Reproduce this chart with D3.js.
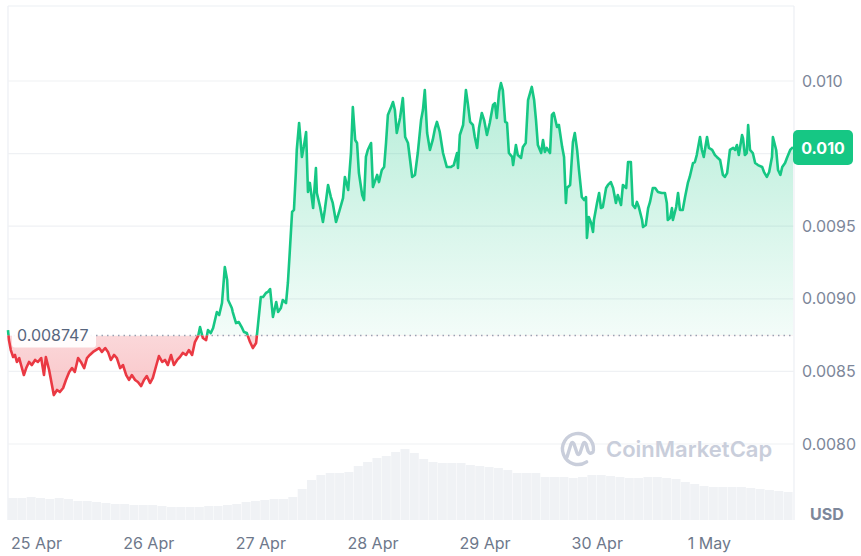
<!DOCTYPE html>
<html><head><meta charset="utf-8">
<script src="https://cdn.jsdelivr.net/npm/d3@7"></script>
<style>
body{margin:0;background:#fff;}
svg{display:block;font-family:Inter,"Noto Sans",sans-serif;}
</style>
</head><body>
<svg id="chart" width="861" height="556"></svg>
<script>
// ---------- data ----------
const startTime = new Date(2024, 3, 24, 18, 0); // 24 Apr 18:00
const hoursFromStart = [
0.0,0.2,0.6,1.1,1.5,1.9,2.4,2.8,3.4,3.9,4.5,5.1,5.8,6.4,7.1,7.7,8.1,8.8,9.4,9.8,
10.5,11.1,11.8,12.4,13.1,13.7,14.3,15.0,15.6,16.3,16.9,17.5,18.2,18.8,19.5,20.1,20.8,21.4,22.0,22.7,
23.3,24.0,24.6,25.3,25.9,26.5,27.2,27.8,28.5,29.1,29.7,30.4,31.0,31.7,32.3,33.0,33.6,34.2,34.9,35.5,
36.2,36.8,37.4,38.1,38.7,39.4,40.0,40.7,41.1,41.7,42.4,42.8,43.4,43.9,44.7,45.2,45.8,46.4,46.9,47.1,
47.9,48.1,48.8,49.4,50.1,50.5,51.1,51.8,52.4,53.1,53.5,54.1,54.6,55.2,55.6,56.1,56.7,57.4,57.8,58.4,
58.8,59.5,59.9,60.3,60.8,61.2,61.6,61.8,62.3,62.9,63.3,63.8,64.2,64.6,65.3,65.9,66.1,66.8,67.4,67.8,
68.5,69.1,69.5,70.2,70.8,71.7,72.1,72.8,73.4,73.8,74.3,74.7,75.1,75.8,76.2,76.6,77.0,77.7,78.1,79.0,
79.4,80.0,80.5,80.9,81.3,82.0,82.4,82.8,83.2,83.9,84.5,85.0,85.6,86.5,87.1,87.7,88.4,88.8,89.2,89.7,
90.3,90.9,91.4,91.8,92.4,93.1,93.9,94.8,95.4,96.1,96.3,96.7,97.4,98.0,98.4,98.9,99.5,99.9,100.4,100.8,
101.4,101.9,102.5,103.1,103.8,104.2,104.6,105.1,105.5,105.9,106.4,106.8,107.2,107.9,108.1,108.7,109.1,109.8,110.2,110.8,
111.3,112.1,112.6,113.0,113.4,114.1,114.5,114.9,115.3,116.0,116.4,116.8,117.5,117.9,118.6,119.0,119.4,119.6,120.3,120.9,
121.3,121.8,122.2,122.8,123.3,123.7,123.9,124.3,124.8,125.2,125.4,126.1,126.5,126.9,127.3,128.0,128.4,129.0,129.5,130.1,
130.5,131.2,131.6,132.3,132.7,133.3,133.7,134.2,134.6,135.0,135.7,135.9,136.5,137.0,137.4,138.0,138.5,139.1,139.9,140.6,
141.0,141.2,141.7,142.1,142.3,143.0,143.4,143.8,144.4,144.9,145.5,145.9,146.6,147.0,147.4,148.1,148.5,148.9,149.6,150.0,
150.7,151.3,151.7,152.4,153.0,153.4,153.9,154.5,155.2,155.6,156.0,156.4,157.1,157.3,157.7,158.1,158.4,158.8,159.4,159.9,
160.5,161.4,161.8,162.4,162.9,163.5,163.7,164.4,164.8,165.3,165.7,166.3,166.7,167.4,168.0
];
const prices = [
0.008785,0.008716,0.008647,0.008599,0.008613,0.008565,0.008592,0.008544,0.008475,0.008523,
0.008565,0.008544,0.008579,0.008565,0.008592,0.008475,0.008599,0.008510,0.008406,0.008337,
0.008372,0.008358,0.008386,0.008441,0.008496,0.008523,0.008496,0.008592,0.008565,0.008523,
0.008592,0.008613,0.008634,0.008647,0.008661,0.008634,0.008661,0.008634,0.008579,0.008613,
0.008592,0.008523,0.008544,0.008475,0.008441,0.008475,0.008441,0.008427,0.008399,0.008441,
0.008468,0.008420,0.008455,0.008537,0.008606,0.008565,0.008579,0.008544,0.008613,0.008544,
0.008579,0.008599,0.008627,0.008613,0.008647,0.008613,0.008702,0.008744,0.008806,0.008730,
0.008716,0.008785,0.008764,0.008799,0.008909,0.008888,0.008971,0.009219,0.009129,0.008992,
0.008937,0.008909,0.008833,0.008840,0.008799,0.008771,0.008764,0.008702,0.008661,0.008696,
0.008820,0.009012,0.009012,0.009040,0.009047,0.009067,0.008875,0.008978,0.008909,0.008937,
0.008992,0.008971,0.009109,0.009322,0.009598,0.009612,0.009866,0.010025,0.010211,0.009977,
0.010045,0.010149,0.009736,0.009798,0.009625,0.009901,0.009729,0.009632,0.009529,0.009612,
0.009784,0.009701,0.009660,0.009529,0.009591,0.009694,0.009839,0.009749,0.010004,0.010321,
0.010094,0.010073,0.009866,0.009715,0.009680,0.009977,0.010025,0.010073,0.009770,0.009853,
0.009804,0.009887,0.009908,0.010073,0.010266,0.010321,0.010355,0.010300,0.010142,0.010245,
0.010383,0.010114,0.010073,0.009839,0.009853,0.010004,0.010231,0.010300,0.010438,0.010142,
0.010025,0.010094,0.010176,0.010218,0.010149,0.010004,0.009908,0.009908,0.009921,0.010004,
0.009901,0.010128,0.010197,0.010438,0.010348,0.010218,0.010197,0.010114,0.010039,0.010176,
0.010280,0.010231,0.010128,0.010211,0.010335,0.010348,0.010245,0.010424,0.010486,0.010438,
0.010218,0.010211,0.010004,0.009977,0.009921,0.010059,0.009990,0.009970,0.010045,0.010073,
0.010369,0.010459,0.010369,0.010231,0.010059,0.010004,0.010094,0.010011,0.010039,0.010004,
0.010266,0.010280,0.010183,0.010197,0.010045,0.009977,0.009660,0.009763,0.009784,0.010080,
0.010142,0.010025,0.009887,0.009701,0.009680,0.009701,0.009419,0.009563,0.009522,0.009460,
0.009543,0.009667,0.009729,0.009625,0.009632,0.009763,0.009784,0.009804,0.009763,0.009660,
0.009715,0.009646,0.009784,0.009763,0.009942,0.009942,0.009646,0.009625,0.009667,0.009632,
0.009543,0.009494,0.009508,0.009625,0.009667,0.009763,0.009763,0.009736,0.009729,0.009729,
0.009660,0.009543,0.009556,0.009625,0.009543,0.009632,0.009729,0.009612,0.009612,0.009701,
0.009798,0.009839,0.009935,0.009942,0.009990,0.010114,0.010025,0.009977,0.010114,0.010039,
0.010025,0.009990,0.009977,0.009956,0.009853,0.009839,0.009866,0.010025,0.010039,0.010025,
0.010059,0.009990,0.010128,0.010107,0.009990,0.010004,0.010197,0.010025,0.010004,0.009935,
0.009921,0.009908,0.009873,0.009839,0.009873,0.009977,0.010114,0.010025,0.009887,0.009853,
0.009908,0.009935,0.009970,0.010025,0.010045
];
// volume, one bar per 2 hours (relative units)
const volumes = [
22,22,23,22,21,22,21,19,19,18,17,16,16,15,15,15,14,13,13,13,
13,14,14,15,16,18,19,20,21,21,23,31,40,45,47,47,48,54,58,62,
64,68,71,67,61,58,57,57,57,55,54,53,52,50,47,47,47,43,43,43,
42,43,45,45,44,43,42,42,43,43,42,41,38,36,34,33,33,33,33,32,
31,30,29,28
];
const volumeStepHours = 2;
const baselinePrice = 0.008747;
const baselineLabel = "0.008747";
const yTicks = [0.0080, 0.0085, 0.0090, 0.0095, 0.0105];
const yTickLabels = ["0.0080", "0.0085", "0.0090", "0.0095", "0.010"];
const gridValues = [0.0080, 0.0085, 0.0090, 0.0095, 0.0100, 0.0105];
const currentPriceLabel = "0.010";
const currencyLabel = "USD";
const watermarkText = "CoinMarketCap";

// ---------- layout ----------
const GREEN = "#16c784", RED = "#ea3943";
const plotLeft = 8, plotRight = 793, plotTop = 6, plotBottom = 520;
const svg = d3.select("#chart");
const endTime = d3.timeHour.offset(startTime, 168);
const x = d3.scaleTime().domain([startTime, endTime]).range([plotLeft, plotRight]);
const y = d3.scaleLinear().domain([0.0080, 0.0105]).range([444, 81]);
const yv = d3.scaleLinear().domain([0, 80]).range([plotBottom, 440]);

const data = hoursFromStart.map((h, i) => ({t: d3.timeMinute.offset(startTime, Math.round(h*60)), p: prices[i]}));
const baseY = y(baselinePrice);

const defs = svg.append("defs");
const gG = defs.append("linearGradient").attr("id","gGreen").attr("gradientUnits","userSpaceOnUse")
  .attr("x1",0).attr("x2",0).attr("y1",y(0.0105)).attr("y2",baseY);
gG.append("stop").attr("offset",0).attr("stop-color",GREEN).attr("stop-opacity",0.32);
gG.append("stop").attr("offset",1).attr("stop-color",GREEN).attr("stop-opacity",0.05);
const gR = defs.append("linearGradient").attr("id","gRed").attr("gradientUnits","userSpaceOnUse")
  .attr("x1",0).attr("x2",0).attr("y1",baseY).attr("y2",y(0.0083));
gR.append("stop").attr("offset",0).attr("stop-color",RED).attr("stop-opacity",0.20);
gR.append("stop").attr("offset",1).attr("stop-color",RED).attr("stop-opacity",0.30);
defs.append("clipPath").attr("id","above").append("rect").attr("x",0).attr("y",0).attr("width",861).attr("height",baseY);
defs.append("clipPath").attr("id","below").append("rect").attr("x",0).attr("y",baseY).attr("width",861).attr("height",556-baseY);

// frame + grid
const frame = svg.append("g").attr("stroke","#eceff3").attr("stroke-width",1.2);
frame.append("line").attr("x1",plotLeft).attr("x2",plotRight+1).attr("y1",plotTop).attr("y2",plotTop);
frame.append("line").attr("x1",plotLeft).attr("x2",plotLeft).attr("y1",plotTop).attr("y2",plotBottom);
frame.append("line").attr("x1",plotRight+1).attr("x2",plotRight+1).attr("y1",plotTop).attr("y2",plotBottom);
svg.append("g").selectAll("line").data(gridValues).join("line")
  .attr("x1",plotLeft).attr("x2",plotRight+1).attr("y1",d=>y(d)).attr("y2",d=>y(d))
  .attr("stroke","#eff1f4").attr("stroke-width",1.2);

// volume bars
const barW = x(d3.timeHour.offset(startTime, volumeStepHours)) - x(startTime);
svg.append("g").selectAll("rect").data(volumes).join("rect")
  .attr("x",(d,i)=>x(d3.timeHour.offset(startTime, i*volumeStepHours)))
  .attr("width",barW-0.4)
  .attr("y",d=>yv(d)).attr("height",d=>plotBottom-yv(d))
  .attr("fill","#f0f2f5");

// watermark
const wm = svg.append("g").attr("fill","none").attr("stroke","#c9cedb").attr("stroke-width",3.4).attr("stroke-linecap","round").attr("stroke-linejoin","round");
wm.append("path").attr("d", d3.arc()({innerRadius:15.5, outerRadius:15.5, startAngle:2.55, endAngle:2.55+2*Math.PI-0.9})).attr("transform","translate(578,449)");
wm.append("path").attr("d","M567,457 L571,444 Q572,441 574,444 L577,453 Q578,456 580,453 L583,444 Q584,441 586,444 L588,451 Q590,455 593,452");
svg.append("text").attr("x",606).attr("y",457).attr("fill","#c9cedb").attr("font-size",22).attr("font-weight",600)
  .text(watermarkText);

// areas
const areaGen = d3.area().x(d=>x(d.t)).y0(baseY).y1(d=>y(d.p));
svg.append("path").datum(data).attr("d",areaGen).attr("fill","url(#gGreen)").attr("clip-path","url(#above)");
svg.append("path").datum(data).attr("d",areaGen).attr("fill","url(#gRed)").attr("clip-path","url(#below)");

// baseline dotted
svg.append("line").attr("x1",plotLeft).attr("x2",plotRight).attr("y1",baseY).attr("y2",baseY)
  .attr("stroke","#9aa1b2").attr("stroke-width",1.4).attr("stroke-dasharray","1.5,4");

// lines
const lineGen = d3.line().x(d=>x(d.t)).y(d=>y(d.p));
svg.append("path").datum(data).attr("d",lineGen).attr("fill","none").attr("stroke",GREEN).attr("stroke-width",2.6).attr("stroke-linejoin","round").attr("clip-path","url(#above)");
svg.append("path").datum(data).attr("d",lineGen).attr("fill","none").attr("stroke",RED).attr("stroke-width",2.6).attr("stroke-linejoin","round").attr("clip-path","url(#below)");

// baseline label
svg.append("rect").attr("x",12).attr("y",baseY-12).attr("width",84).attr("height",24).attr("rx",3).attr("fill","#fff").attr("fill-opacity",0.92);
svg.append("text").attr("x",17).attr("y",baseY).attr("dy","0.36em").attr("font-size",16).attr("fill","#58667e")
  .text(baselineLabel);

// y axis
const yAxis = svg.append("g").attr("transform",`translate(802,0)`)
  .call(d3.axisRight(y).tickValues(yTicks).tickFormat((d,i)=>yTickLabels[i]).tickSize(0).tickPadding(0));
yAxis.select(".domain").remove();
yAxis.selectAll("text").attr("font-size",16).attr("font-family","Inter,sans-serif").attr("fill","#7d879a");

// x axis
const xAxis = svg.append("g").attr("transform",`translate(0,530)`)
  .call(d3.axisBottom(x).ticks(d3.timeDay.every(1)).tickFormat(d3.timeFormat("%-d %b")).tickSize(0).tickPadding(8));
xAxis.select(".domain").remove();
xAxis.selectAll("text").attr("font-size",16).attr("font-family","Inter,sans-serif").attr("fill","#6e788b");

// currency label
svg.append("text").attr("x",810).attr("y",514).attr("dy","0.36em").attr("font-size",16).attr("font-weight",700).attr("fill","#7d879a").text(currencyLabel);

// current price badge
const last = prices[prices.length-1];
svg.append("rect").attr("x",793).attr("y",y(last)-17).attr("width",60).attr("height",35).attr("rx",5).attr("fill",GREEN);
svg.append("text").attr("x",823).attr("y",y(last)+1).attr("dy","0.36em").attr("text-anchor","middle")
  .attr("font-size",16).attr("font-weight",700).attr("fill","#fff").text(currentPriceLabel);
</script>
</body></html>
